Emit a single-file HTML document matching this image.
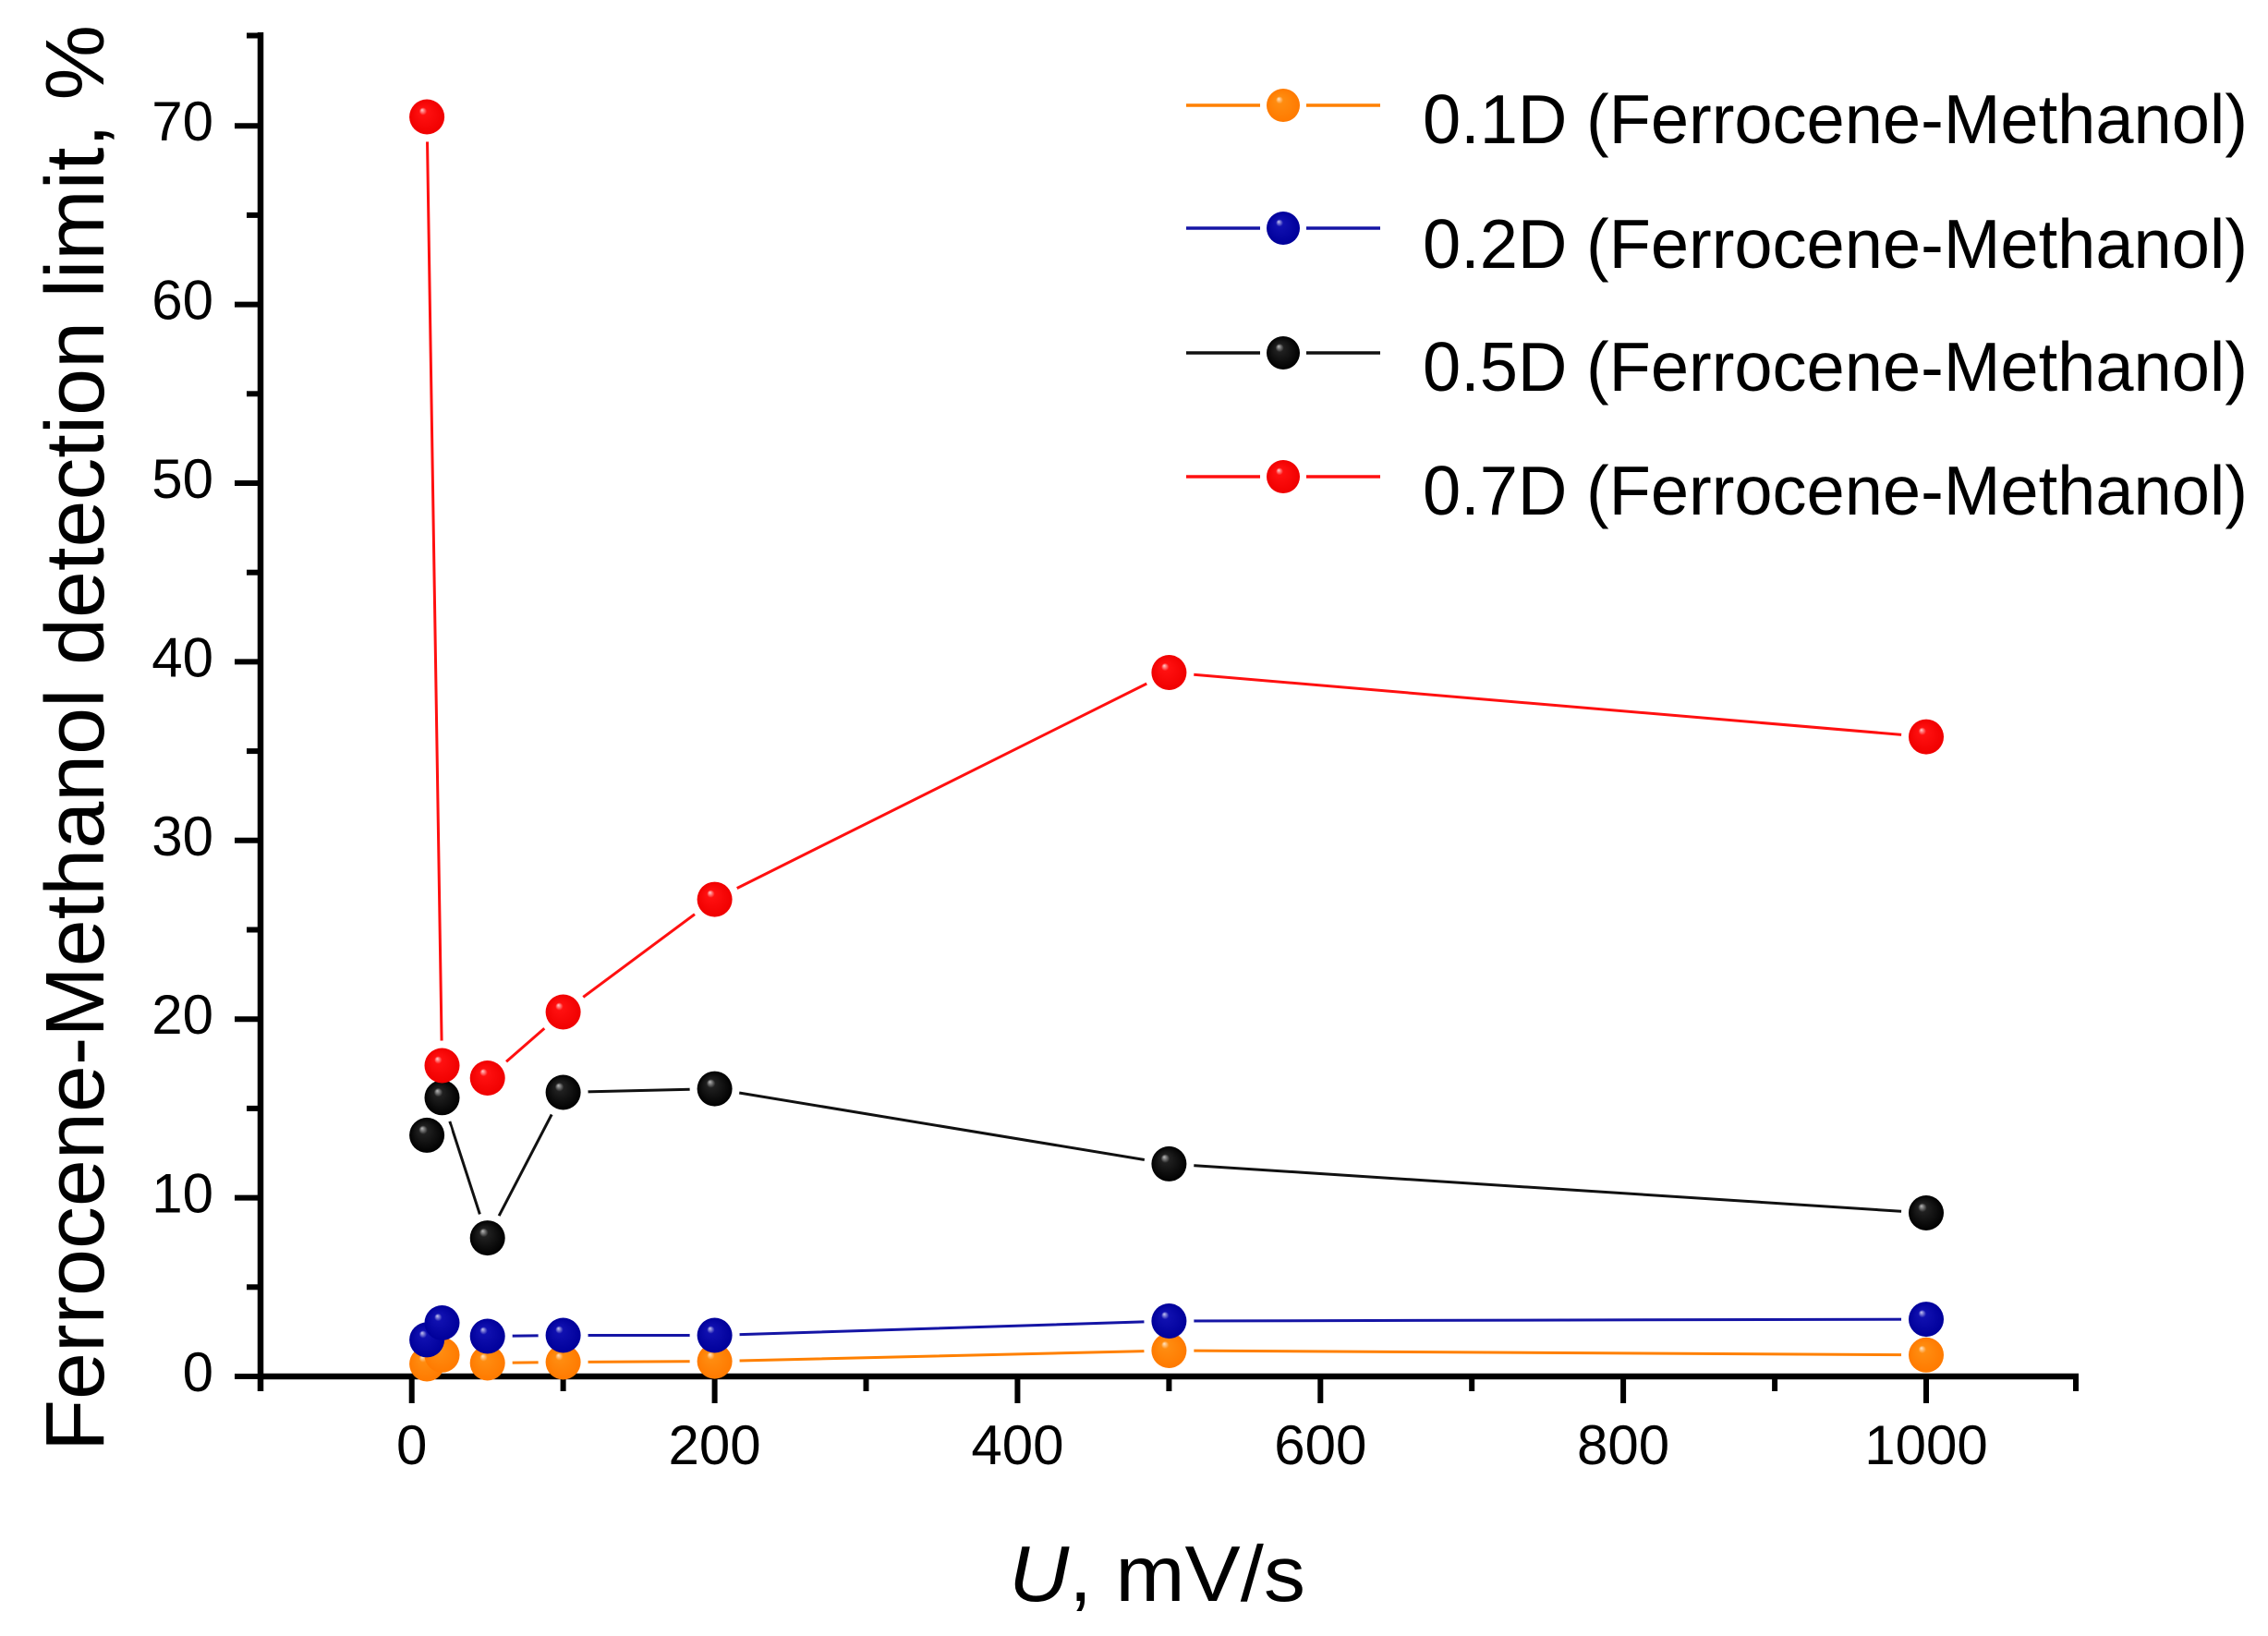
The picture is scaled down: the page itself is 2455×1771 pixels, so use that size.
<!DOCTYPE html>
<html>
<head>
<meta charset="utf-8">
<style>
  html, body { margin:0; padding:0; background:#fff; }
  svg { display:block; }
  text { font-family: "Liberation Sans", "DejaVu Sans", sans-serif; fill:#000; }
</style>
</head>
<body>
<svg width="2455" height="1771" viewBox="0 0 2455 1771" xmlns="http://www.w3.org/2000/svg">
  <defs>
    <radialGradient id="gO" cx="0.5" cy="0.5" r="0.5" fx="0.36" fy="0.3">
      <stop offset="0" stop-color="#ffe6c8"/>
      <stop offset="0.22" stop-color="#ff8c10"/>
      <stop offset="1" stop-color="#ff7a00"/>
    </radialGradient>
    <radialGradient id="gB" cx="0.5" cy="0.5" r="0.5" fx="0.36" fy="0.3">
      <stop offset="0" stop-color="#c8c8f0"/>
      <stop offset="0.22" stop-color="#1010b0"/>
      <stop offset="1" stop-color="#00009a"/>
    </radialGradient>
    <radialGradient id="gK" cx="0.5" cy="0.5" r="0.5" fx="0.36" fy="0.3">
      <stop offset="0" stop-color="#bbbbbb"/>
      <stop offset="0.25" stop-color="#202020"/>
      <stop offset="1" stop-color="#000000"/>
    </radialGradient>
    <radialGradient id="gR" cx="0.5" cy="0.5" r="0.5" fx="0.36" fy="0.3">
      <stop offset="0" stop-color="#ffd0d0"/>
      <stop offset="0.22" stop-color="#ff1010"/>
      <stop offset="1" stop-color="#f00000"/>
    </radialGradient>

    <mask id="mO" maskUnits="userSpaceOnUse" x="0" y="0" width="2455" height="1771">
      <rect x="0" y="0" width="2455" height="1771" fill="#fff"/>
      <g fill="#000">
        <circle cx="462.1" cy="1476.5" r="27"/><circle cx="478.5" cy="1466.8" r="27"/>
        <circle cx="527.7" cy="1475.5" r="27"/><circle cx="609.6" cy="1474.5" r="27"/>
        <circle cx="773.6" cy="1473.6" r="27"/><circle cx="1265.4" cy="1462.0" r="27"/>
        <circle cx="2085.0" cy="1466.8" r="27"/>
      </g>
    </mask>
    <mask id="mB" maskUnits="userSpaceOnUse" x="0" y="0" width="2455" height="1771">
      <rect x="0" y="0" width="2455" height="1771" fill="#fff"/>
      <g fill="#000">
        <circle cx="462.1" cy="1450.4" r="27"/><circle cx="478.5" cy="1432.0" r="27"/>
        <circle cx="527.7" cy="1446.5" r="27"/><circle cx="609.6" cy="1445.5" r="27"/>
        <circle cx="773.6" cy="1445.5" r="27"/><circle cx="1265.4" cy="1430.0" r="27"/>
        <circle cx="2085.0" cy="1428.1" r="27"/>
      </g>
    </mask>
    <mask id="mK" maskUnits="userSpaceOnUse" x="0" y="0" width="2455" height="1771">
      <rect x="0" y="0" width="2455" height="1771" fill="#fff"/>
      <g fill="#000">
        <circle cx="462.1" cy="1228.9" r="27"/><circle cx="478.5" cy="1188.3" r="27"/>
        <circle cx="527.7" cy="1340.1" r="27"/><circle cx="609.6" cy="1182.5" r="27"/>
        <circle cx="773.6" cy="1178.6" r="27"/><circle cx="1265.4" cy="1259.9" r="27"/>
        <circle cx="2085.0" cy="1313.0" r="27"/>
      </g>
    </mask>
    <mask id="mR" maskUnits="userSpaceOnUse" x="0" y="0" width="2455" height="1771">
      <rect x="0" y="0" width="2455" height="1771" fill="#fff"/>
      <g fill="#000">
        <circle cx="462.1" cy="126.5" r="27"/><circle cx="478.5" cy="1153.5" r="27"/>
        <circle cx="527.7" cy="1167.0" r="27"/><circle cx="609.6" cy="1095.5" r="27"/>
        <circle cx="773.6" cy="973.6" r="27"/><circle cx="1265.4" cy="728.0" r="27"/>
        <circle cx="2085.0" cy="797.6" r="27"/>
      </g>
    </mask>
  </defs>

  <rect x="0" y="0" width="2455" height="1771" fill="#fff"/>

  <!-- Axes -->
  <g stroke="#000" stroke-width="6.5" fill="none" stroke-linecap="butt">
    <line x1="282" y1="35" x2="282" y2="1506"/>
    <line x1="279" y1="1490" x2="2250" y2="1490"/>
  </g>
  <!-- Y ticks -->
  <g stroke="#000" stroke-width="6">
    <line x1="254" y1="1490" x2="282" y2="1490"/>
    <line x1="254" y1="1296.6" x2="282" y2="1296.6"/>
    <line x1="254" y1="1103.2" x2="282" y2="1103.2"/>
    <line x1="254" y1="909.8" x2="282" y2="909.8"/>
    <line x1="254" y1="716.4" x2="282" y2="716.4"/>
    <line x1="254" y1="523" x2="282" y2="523"/>
    <line x1="254" y1="329.6" x2="282" y2="329.6"/>
    <line x1="254" y1="136.2" x2="282" y2="136.2"/>
    <line x1="267" y1="1393.3" x2="282" y2="1393.3"/>
    <line x1="267" y1="1199.9" x2="282" y2="1199.9"/>
    <line x1="267" y1="1006.5" x2="282" y2="1006.5"/>
    <line x1="267" y1="813.1" x2="282" y2="813.1"/>
    <line x1="267" y1="619.7" x2="282" y2="619.7"/>
    <line x1="267" y1="426.3" x2="282" y2="426.3"/>
    <line x1="267" y1="232.9" x2="282" y2="232.9"/>
    <line x1="267" y1="38.5" x2="282" y2="38.5"/>
  </g>
  <!-- X ticks -->
  <g stroke="#000" stroke-width="6">
    <line x1="445.7" y1="1490" x2="445.7" y2="1519"/>
    <line x1="773.6" y1="1490" x2="773.6" y2="1519"/>
    <line x1="1101.4" y1="1490" x2="1101.4" y2="1519"/>
    <line x1="1429.3" y1="1490" x2="1429.3" y2="1519"/>
    <line x1="1757.1" y1="1490" x2="1757.1" y2="1519"/>
    <line x1="2085.0" y1="1490" x2="2085.0" y2="1519"/>
    <line x1="609.6" y1="1490" x2="609.6" y2="1506"/>
    <line x1="937.5" y1="1490" x2="937.5" y2="1506"/>
    <line x1="1265.4" y1="1490" x2="1265.4" y2="1506"/>
    <line x1="1593.2" y1="1490" x2="1593.2" y2="1506"/>
    <line x1="1921.1" y1="1490" x2="1921.1" y2="1506"/>
    <line x1="2247" y1="1490" x2="2247" y2="1506"/>
  </g>

  <!-- Y tick labels -->
  <g font-size="60" text-anchor="end">
    <text x="231" y="1506">0</text>
    <text x="231" y="1312.6">10</text>
    <text x="231" y="1119.2">20</text>
    <text x="231" y="925.8">30</text>
    <text x="231" y="732.4">40</text>
    <text x="231" y="539">50</text>
    <text x="231" y="345.6">60</text>
    <text x="231" y="152.2">70</text>
  </g>
  <!-- X tick labels -->
  <g font-size="60" text-anchor="middle">
    <text x="445.7" y="1585">0</text>
    <text x="773.6" y="1585">200</text>
    <text x="1101.4" y="1585">400</text>
    <text x="1429.3" y="1585">600</text>
    <text x="1757.1" y="1585">800</text>
    <text x="2085.0" y="1585">1000</text>
  </g>

  <!-- Axis titles -->
  <text transform="translate(112,1571) rotate(-90)" font-size="90" textLength="1544" lengthAdjust="spacingAndGlyphs">Ferrocene-Methanol detection limit, %</text>
  <text x="1092" y="1733" font-size="85" textLength="321" lengthAdjust="spacingAndGlyphs"><tspan font-style="italic">U</tspan>, mV/s</text>

  <!-- Series lines -->
  <g fill="none" stroke-width="3" stroke-linejoin="round">
    <polyline mask="url(#mO)" stroke="#ff8000" points="462.1,1476.5 478.5,1466.8 527.7,1475.5 609.6,1474.5 773.6,1473.6 1265.4,1462.0 2085.0,1466.8"/>
    <polyline mask="url(#mB)" stroke="#1515a5" points="462.1,1450.4 478.5,1432.0 527.7,1446.5 609.6,1445.5 773.6,1445.5 1265.4,1430.0 2085.0,1428.1"/>
    <polyline mask="url(#mK)" stroke="#111" points="462.1,1228.9 478.5,1188.3 527.7,1340.1 609.6,1182.5 773.6,1178.6 1265.4,1259.9 2085.0,1313.0"/>
    <polyline mask="url(#mR)" stroke="#ff1010" points="462.1,126.5 478.5,1153.5 527.7,1167.0 609.6,1095.5 773.6,973.6 1265.4,728.0 2085.0,797.6"/>
  </g>

  <!-- Markers -->
  <g fill="url(#gO)">
    <circle cx="462.1" cy="1476.5" r="19"/><circle cx="478.5" cy="1466.8" r="19"/>
    <circle cx="527.7" cy="1475.5" r="19"/><circle cx="609.6" cy="1474.5" r="19"/>
    <circle cx="773.6" cy="1473.6" r="19"/><circle cx="1265.4" cy="1462.0" r="19"/>
    <circle cx="2085.0" cy="1466.8" r="19"/>
  </g>
  <g fill="url(#gB)">
    <circle cx="462.1" cy="1450.4" r="19"/><circle cx="478.5" cy="1432.0" r="19"/>
    <circle cx="527.7" cy="1446.5" r="19"/><circle cx="609.6" cy="1445.5" r="19"/>
    <circle cx="773.6" cy="1445.5" r="19"/><circle cx="1265.4" cy="1430.0" r="19"/>
    <circle cx="2085.0" cy="1428.1" r="19"/>
  </g>
  <g fill="url(#gK)">
    <circle cx="462.1" cy="1228.9" r="19"/><circle cx="478.5" cy="1188.3" r="19"/>
    <circle cx="527.7" cy="1340.1" r="19"/><circle cx="609.6" cy="1182.5" r="19"/>
    <circle cx="773.6" cy="1178.6" r="19"/><circle cx="1265.4" cy="1259.9" r="19"/>
    <circle cx="2085.0" cy="1313.0" r="19"/>
  </g>
  <g fill="url(#gR)">
    <circle cx="462.1" cy="126.5" r="19"/><circle cx="478.5" cy="1153.5" r="19"/>
    <circle cx="527.7" cy="1167.0" r="19"/><circle cx="609.6" cy="1095.5" r="19"/>
    <circle cx="773.6" cy="973.6" r="19"/><circle cx="1265.4" cy="728.0" r="19"/>
    <circle cx="2085.0" cy="797.6" r="19"/>
  </g>

  <!-- Legend -->
  <g stroke-width="3.5">
    <line x1="1284" y1="114" x2="1364" y2="114" stroke="#ff8000"/>
    <line x1="1414" y1="114" x2="1494" y2="114" stroke="#ff8000"/>
    <line x1="1284" y1="247" x2="1364" y2="247" stroke="#1515a5"/>
    <line x1="1414" y1="247" x2="1494" y2="247" stroke="#1515a5"/>
    <line x1="1284" y1="382" x2="1364" y2="382" stroke="#111"/>
    <line x1="1414" y1="382" x2="1494" y2="382" stroke="#111"/>
    <line x1="1284" y1="516" x2="1364" y2="516" stroke="#ff1010"/>
    <line x1="1414" y1="516" x2="1494" y2="516" stroke="#ff1010"/>
  </g>
  <circle cx="1389" cy="114" r="18" fill="url(#gO)"/>
  <circle cx="1389" cy="247" r="18" fill="url(#gB)"/>
  <circle cx="1389" cy="382" r="18" fill="url(#gK)"/>
  <circle cx="1389" cy="516" r="18" fill="url(#gR)"/>
  <g font-size="75">
    <text x="1540" y="155" textLength="893" lengthAdjust="spacingAndGlyphs">0.1D (Ferrocene-Methanol)</text>
    <text x="1540" y="290" textLength="893" lengthAdjust="spacingAndGlyphs">0.2D (Ferrocene-Methanol)</text>
    <text x="1540" y="423" textLength="893" lengthAdjust="spacingAndGlyphs">0.5D (Ferrocene-Methanol)</text>
    <text x="1540" y="557" textLength="893" lengthAdjust="spacingAndGlyphs">0.7D (Ferrocene-Methanol)</text>
  </g>
</svg>
</body>
</html>
